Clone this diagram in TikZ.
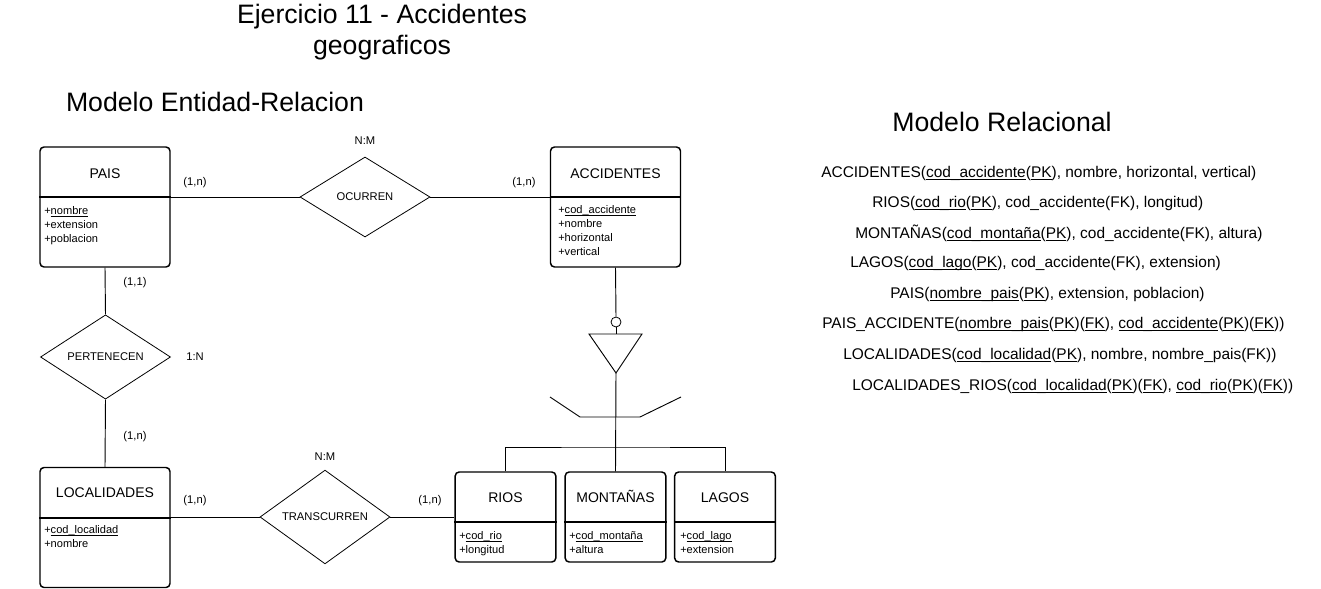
\documentclass[tikz,border=0pt]{standalone}
\usepackage{fontspec}
\setmainfont{Liberation Sans}
\usetikzlibrary{shapes.geometric}

\newcommand{\ukey}[1]{\underline{\smash{#1}}}

\tikzset{
  entbox/.style={draw, rounded corners=3pt, line width=1.1pt, inner sep=0pt},
  bigent/.style={entbox, minimum width=97.5pt, minimum height=90pt},
  smallent/.style={entbox, minimum width=75.5pt, minimum height=67.5pt},
  relbox/.style={draw, diamond, line width=0.6pt, inner sep=0pt, minimum width=97.5pt, minimum height=60pt, font=\fontsize{8.4}{10}\selectfont},
  enttitle/.style={anchor=base, inner sep=0pt, font=\fontsize{10.5}{12}\selectfont},
  attrs/.style={anchor=north west, inner sep=0pt, align=left, font=\fontsize{8.3}{10.5}\selectfont},
  card/.style={inner sep=0pt, font=\fontsize{8.4}{10}\selectfont},
  relline/.style={anchor=west, inner sep=0pt, font=\fontsize{11.6}{14}\selectfont},
  heading/.style={inner sep=0pt, align=center, font=\fontsize{20}{23.25}\selectfont},
  conn/.style={line width=0.7pt}
}

\begin{document}
\begin{tikzpicture}[x=0.75pt,y=0.75pt,yscale=-1,xscale=1]
\useasboundingbox (0,0) rectangle (1321,589);

% Text Node
\node[heading] (titulo) at (382,32) {Ejercicio 11 - Accidentes\\geograficos};
% Text Node
\node[heading] (titER) at (215,102) {Modelo Entidad-Relacion};
% Text Node
\node[heading] (titRel) at (1002,122) {Modelo Relacional};

%Shape: Entity PAIS
\node[bigent] (pais) at (105,207) {};
\draw[line width=1.1pt] (pais.west |- 0,197) -- (pais.east |- 0,197);
\node[enttitle] (paisT) at (105,178) {PAIS};
\node[attrs] (paisA) at (44,208) {+\ukey{nombre}\\+extension\\+poblacion};

%Shape: Entity ACCIDENTES
\node[bigent] (acc) at (615.5,207) {};
\draw[line width=1.1pt] (acc.west |- 0,197) -- (acc.east |- 0,197);
\node[enttitle] (accT) at (615.5,178) {ACCIDENTES};
\node[attrs] (accA) at (558,207) {+\ukey{cod\_accidente}\\+nombre\\+horizontal\\+vertical};

%Shape: Entity LOCALIDADES
\node[bigent] (loc) at (105,527.5) {};
\draw[line width=1.1pt] (loc.west |- 0,518) -- (loc.east |- 0,518);
\node[enttitle] (locT) at (105,497) {LOCALIDADES};
\node[attrs] (locA) at (44,527) {+\ukey{cod\_localidad}\\+nombre};

%Shape: Entity RIOS
\node[smallent] (rios) at (505.5,517) {};
\draw[line width=1.1pt] (rios.west |- 0,522) -- (rios.east |- 0,522);
\node[enttitle] (riosT) at (505.5,502) {RIOS};
\node[attrs] (riosA) at (459,533) {+\ukey{cod\_rio}\\+longitud};

%Shape: Entity MONTAÑAS
\node[smallent] (mont) at (615.5,517) {};
\draw[line width=1.1pt] (mont.west |- 0,522) -- (mont.east |- 0,522);
\node[enttitle] (montT) at (615.5,502) {MONTAÑAS};
\node[attrs] (montA) at (569,533) {+\ukey{cod\_montaña}\\+altura};

%Shape: Entity LAGOS
\node[smallent] (lagos) at (725,517) {};
\draw[line width=1.1pt] (lagos.west |- 0,522) -- (lagos.east |- 0,522);
\node[enttitle] (lagosT) at (725,502) {LAGOS};
\node[attrs] (lagosA) at (680,533) {+\ukey{cod\_lago}\\+extension};

%Shape: Diamond
\node[relbox] (ocurren) at (365,197) {OCURREN};
\node[relbox] (pert) at (105.5,357) {PERTENECEN};
\node[relbox] (trans) at (325,517) {TRANSCURREN};

%Straight Lines
\draw[conn] (ocurren.west) -- (ocurren.west -| pais.east);
\draw[conn] (ocurren.east) -- (ocurren.east -| acc.west);
\draw[conn] (pais.south) -- (pert.north);
\draw[conn] (pert.south) -- (loc.north);
\draw[conn] (trans.west) -- (trans.west -| loc.east);
\draw[conn] (trans.east) -- (trans.east -| rios.west);

%Shape: Specialization
\node[draw, circle, line width=0.6pt, inner sep=0pt, minimum size=7.5pt] (disj) at (616,322) {};
\coordinate (tritop) at (616,334);
\coordinate (triapex) at (616,373);
\coordinate (branch) at (616,447);
\draw[conn] (acc.south) -- (disj.north);
\draw[conn] (disj.south) -- (tritop);
\draw[conn] (589,334) -- (642,334) -- (triapex) -- cycle;
\draw[conn] (triapex) -- (mont.north);
\draw[conn] (rios.north) |- (branch) -| (lagos.north);
\draw[conn] (550,397) -- (580,417) -- (640,417) -- (681,397);

% Text Node
\node[card] (cardOc1) at (195,183) {(1,n)};
\node[card] (cardOc2) at (524,183) {(1,n)};
\node[card] (tipoOc) at (365,141) {N:M};
\node[card] (cardPe1) at (135,283) {(1,1)};
\node[card] (tipoPe) at (195,357) {1:N};
\node[card] (cardPe2) at (135,437) {(1,n)};
\node[card] (tipoTr) at (325,457) {N:M};
\node[card] (cardTr1) at (195,501) {(1,n)};
\node[card] (cardTr2) at (430,501) {(1,n)};

% Text Node
\node[relline] (relAcc) at (821,173) {ACCIDENTES(\ukey{cod\_accidente}(\ukey{PK}), nombre, horizontal, vertical)};
\node[relline] (relRios) at (872,203) {RIOS(\ukey{cod\_rio}(\ukey{PK}), cod\_accidente(FK), longitud)};
\node[relline] (relMont) at (855,233) {MONTAÑAS(\ukey{cod\_montaña}(\ukey{PK}), cod\_accidente(FK), altura)};
\node[relline] (relLagos) at (850,263) {LAGOS(\ukey{cod\_lago}(\ukey{PK}), cod\_accidente(FK), extension)};
\node[relline] (relPais) at (890,294) {PAIS(\ukey{nombre\_pais}(\ukey{PK}), extension, poblacion)};
\node[relline] (relPaisAcc) at (822,324) {PAIS\_ACCIDENTE(\ukey{nombre\_pais}(\ukey{PK})(\ukey{FK}), \ukey{cod\_accidente}(\ukey{PK})(\ukey{FK}))};
\node[relline] (relLoc) at (843,355) {LOCALIDADES(\ukey{cod\_localidad}(\ukey{PK}), nombre, nombre\_pais(FK))};
\node[relline] (relLocRios) at (852,386) {LOCALIDADES\_RIOS(\ukey{cod\_localidad}(\ukey{PK})(\ukey{FK}), \ukey{cod\_rio}(\ukey{PK})(\ukey{FK}))};

\end{tikzpicture}
\end{document}
